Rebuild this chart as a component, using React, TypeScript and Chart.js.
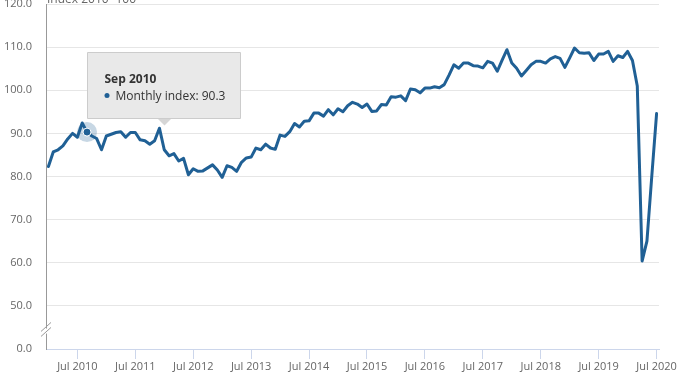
import React, { useEffect, useRef } from "react";
import { Chart, registerables } from "chart.js";

Chart.register(...registerables);

const MONTHS = ["Jan", "Feb", "Mar", "Apr", "May", "Jun", "Jul", "Aug", "Sep", "Oct", "Nov", "Dec"];
const START_YEAR = 2010;

// Monthly index values, Jan 2010 .. Jul 2020
const VALUES_2010 = [82.3, 85.7, 86.2, 87.1, 88.7, 90.0, 89.1, 92.4, 90.3, 89.4, 88.8, 86.2];
const VALUES_2011 = [89.4, 89.8, 90.2, 90.4, 89.1, 90.2, 90.2, 88.5, 88.3, 87.5, 88.3, 91.2];
const VALUES_2012 = [86.2, 84.8, 85.3, 83.6, 84.2, 80.4, 81.8, 81.2, 81.3, 82.0, 82.7, 81.5];
const VALUES_2013 = [79.8, 82.5, 82.1, 81.2, 83.3, 84.3, 84.5, 86.6, 86.2, 87.5, 86.6, 86.3];
const VALUES_2014 = [89.6, 89.3, 90.4, 92.3, 91.5, 92.8, 92.9, 94.7, 94.7, 94.0, 95.5, 94.3];
const VALUES_2015 = [95.7, 95.0, 96.4, 97.2, 96.8, 96.0, 96.8, 95.1, 95.2, 96.7, 96.6, 98.5];
const VALUES_2016 = [98.4, 98.7, 97.6, 100.3, 100.1, 99.4, 100.5, 100.5, 100.8, 100.6, 101.3, 103.5];
const VALUES_2017 = [105.9, 105.1, 106.3, 106.3, 105.7, 105.6, 105.2, 106.7, 106.3, 104.4, 107.0, 109.4];
const VALUES_2018 = [106.3, 105.1, 103.3, 104.6, 105.9, 106.7, 106.7, 106.3, 107.3, 107.8, 107.4, 105.3];
const VALUES_2019 = [107.5, 109.8, 108.7, 108.6, 108.7, 106.9, 108.4, 108.4, 109.0, 106.7, 108.0, 107.6];
const VALUES_2020 = [109.0, 106.9, 101.0, 60.4, 65.0, 80.0, 94.6];

const VALUES = [
  ...VALUES_2010, ...VALUES_2011, ...VALUES_2012, ...VALUES_2013, ...VALUES_2014,
  ...VALUES_2015, ...VALUES_2016, ...VALUES_2017, ...VALUES_2018, ...VALUES_2019, ...VALUES_2020,
];

const CATEGORIES = VALUES.map((_, i) => `${MONTHS[i % 12]} ${START_YEAR + Math.floor(i / 12)}`);

const Y_TICK_VALUES = [40, 50, 60, 70, 80, 90, 100, 110, 120];
const Y_BREAK_LABEL = "0.0";
const X_TICK_MONTH = "Jul";

const SERIES_NAME = "Monthly index";
const AXIS_TITLE = "Index 2010=100";
const TOOLTIP_INDEX = 8; // Sep 2010

const FONT = "'Open Sans', sans-serif";
const BLUE = "#206095";

export default function App() {
  const canvasRef = useRef<HTMLCanvasElement | null>(null);

  useEffect(() => {
    document.body.style.margin = "0";
    const canvas = canvasRef.current;
    if (!canvas) return;

    const overlay = {
      id: "overlay",
      afterDraw(chart: any) {
        const ctx = chart.ctx;
        const y = chart.scales.y;
        const area = chart.chartArea;
        ctx.save();

        // axis title (partly cut at the top)
        ctx.font = `12px ${FONT}`;
        ctx.fillStyle = "#666";
        ctx.textAlign = "left";
        ctx.textBaseline = "alphabetic";
        ctx.fillText(AXIS_TITLE, area.left + 1, 3);

        // axis break
        const by = y.getPixelForValue(45);
        ctx.fillStyle = "#fff";
        ctx.strokeStyle = "#999";
        ctx.lineWidth = 1;
        ctx.beginPath();
        ctx.moveTo(area.left - 5, by + 6);
        ctx.lineTo(area.left + 5, by - 3);
        ctx.lineTo(area.left + 5, by + 2);
        ctx.lineTo(area.left - 5, by + 11);
        ctx.closePath();
        ctx.fill();
        ctx.beginPath();
        ctx.moveTo(area.left - 5, by + 4);
        ctx.lineTo(area.left + 5, by - 5);
        ctx.moveTo(area.left - 5, by + 9);
        ctx.lineTo(area.left + 5, by);
        ctx.stroke();

        // hovered point
        const el = chart.getDatasetMeta(0).data[TOOLTIP_INDEX];
        if (el) {
          const px = el.x;
          const py = el.y;
          ctx.fillStyle = "rgba(32,96,149,0.25)";
          ctx.beginPath();
          ctx.arc(px, py, 10, 0, Math.PI * 2);
          ctx.fill();
          ctx.fillStyle = BLUE;
          ctx.strokeStyle = "#fff";
          ctx.lineWidth = 1;
          ctx.beginPath();
          ctx.arc(px, py, 4, 0, Math.PI * 2);
          ctx.fill();
          ctx.stroke();

          // tooltip box
          const bx = Math.round(px) + 0.5;
          const bw = 153;
          const bh = 66;
          const bottom = Math.round(py) - 13.5;
          const top = bottom - bh;
          const ax = bx + 77;
          ctx.fillStyle = "#d6d6d6";
          ctx.beginPath();
          ctx.moveTo(ax - 7, bottom);
          ctx.lineTo(ax, bottom + 7);
          ctx.lineTo(ax + 7, bottom);
          ctx.closePath();
          ctx.fill();
          ctx.fillStyle = "#e9e9e9";
          ctx.strokeStyle = "#cccccc";
          ctx.beginPath();
          ctx.rect(bx, top, bw, bh);
          ctx.fill();
          ctx.stroke();

          ctx.fillStyle = "#333";
          ctx.font = `bold 12px ${FONT}`;
          ctx.textBaseline = "alphabetic";
          ctx.fillText(CATEGORIES[TOOLTIP_INDEX], bx + 17, top + 30);
          ctx.fillStyle = BLUE;
          ctx.beginPath();
          ctx.arc(bx + 19.5, top + 43, 2.5, 0, Math.PI * 2);
          ctx.fill();
          ctx.fillStyle = "#333";
          ctx.font = `12px ${FONT}`;
          ctx.fillText(`${SERIES_NAME}: ${VALUES[TOOLTIP_INDEX].toFixed(1)}`, bx + 28, top + 47);
        }
        ctx.restore();
      },
    };

    const chart = new Chart(canvas, {
      type: "line",
      data: {
        labels: CATEGORIES,
        datasets: [
          {
            label: SERIES_NAME,
            data: VALUES,
            borderColor: BLUE,
            backgroundColor: BLUE,
            borderWidth: 3,
            pointRadius: 0,
            pointHoverRadius: 0,
            tension: 0,
            borderJoinStyle: "round",
            borderCapStyle: "round",
          },
        ],
      },
      options: {
        responsive: false,
        animation: false,
        devicePixelRatio: 1,
        events: [],
        layout: { padding: { top: 4, right: 39, left: 0, bottom: 0 } },
        plugins: {
          legend: { display: false },
          tooltip: { enabled: false },
          title: { display: false },
        },
        scales: {
          x: {
            type: "category",
            offset: true,
            afterFit(scale: any) {
              scale.height = 33;
              scale.paddingLeft = 0;
              scale.paddingRight = 0;
            },
            afterBuildTicks(scale: any) {
              scale.ticks = scale.ticks.filter((t: any) =>
                String(CATEGORIES[t.value]).startsWith(X_TICK_MONTH)
              );
            },
            grid: {
              offset: false,
              drawOnChartArea: false,
              drawTicks: true,
              tickLength: 10,
              color: "#ccd6eb",
              tickColor: "#ccd6eb",
            },
            border: { display: true, color: "#ccd6eb", width: 1 },
            ticks: {
              autoSkip: false,
              maxRotation: 0,
              minRotation: 0,
              padding: 1,
              color: "#666",
              font: { family: FONT, size: 11 },
            },
          },
          y: {
            type: "linear",
            min: 40,
            max: 120,
            afterFit(scale: any) {
              scale.width = 46;
              scale.paddingTop = 0;
              scale.paddingBottom = 0;
            },
            afterBuildTicks(scale: any) {
              scale.ticks = Y_TICK_VALUES.map((v) => ({ value: v }));
            },
            grid: {
              drawTicks: false,
              color: (c: any) => (c.tick && c.tick.value === 40 ? "rgba(0,0,0,0)" : "#e6e6e6"),
              lineWidth: 1,
            },
            border: { display: true, color: "#999", width: 1 },
            ticks: {
              padding: 14,
              color: "#666",
              font: { family: FONT, size: 11 },
              callback: (v: any) => (Number(v) === 40 ? Y_BREAK_LABEL : Number(v).toFixed(1)),
            },
          },
        },
      },
      plugins: [overlay],
    });

    return () => chart.destroy();
  }, []);

  return (
    <div style={{ position: "fixed", left: 0, top: 0, width: 698, height: 382, background: "#fff" }}>
      <canvas ref={canvasRef} width={698} height={382} style={{ display: "block" }} />
    </div>
  );
}
